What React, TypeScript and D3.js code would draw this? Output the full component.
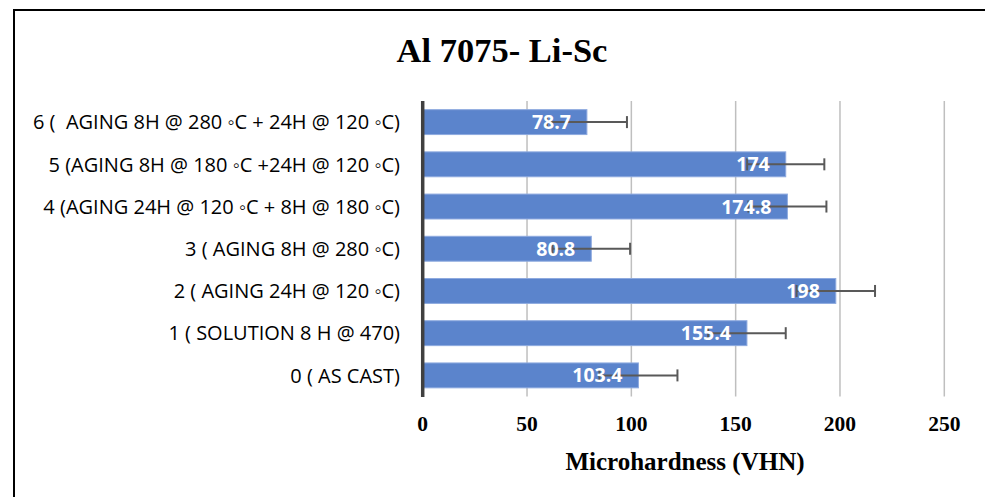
import React from "react";
import * as d3 from "d3";

const categories = [
  "0 ( AS CAST)",
  "1 ( SOLUTION 8 H @ 470)",
  "2 ( AGING 24H @ 120 ◦C)",
  "3 ( AGING 8H @ 280 ◦C)",
  "4 (AGING 24H @ 120 ◦C + 8H @ 180 ◦C)",
  "5 (AGING 8H @ 180 ◦C +24H @ 120 ◦C)",
  "6 (  AGING 8H @ 280 ◦C + 24H @ 120 ◦C)",
];
const values = [103.4, 155.4, 198, 80.8, 174.8, 174, 78.7];
const errors = [18.7, 18.6, 18.8, 18.6, 18.7, 18.5, 19.2];
const xTicks = [0, 50, 100, 150, 200, 250];
const title = "Al 7075- Li-Sc";
const xTitle = "Microhardness (VHN)";

const W = 985;
const H = 497;

export default function App() {
  const x = d3.scaleLinear().domain([0, 250]).range([422.7, 944.3]);
  const order = categories.map((_, i) => i).reverse();
  const y = d3
    .scaleBand<number>()
    .domain(order)
    .range([101, 396.5])
    .paddingInner(0.41)
    .paddingOuter(0.205);
  const bw = y.bandwidth();
  const serif = "'Liberation Serif', 'Times New Roman', serif";
  const sans = "'Open Sans', sans-serif";

  return (
    <svg
      width={W}
      height={H}
      style={{ position: "absolute", left: 0, top: 0, background: "#fff" }}
    >
      <rect x={0} y={0} width={W} height={H} fill="#fff" />
      {/* frame */}
      <line x1={14} y1={10} x2={W} y2={10} stroke="#000" strokeWidth={2} />
      <line x1={14} y1={9} x2={14} y2={H} stroke="#000" strokeWidth={2} />

      <text
        x={502}
        y={62}
        textAnchor="middle"
        fontFamily={serif}
        fontWeight="bold"
        fontSize={34.5}
        fill="#000"
      >
        {title}
      </text>

      {/* gridlines */}
      {xTicks.slice(1).map((t) => (
        <line
          key={t}
          x1={x(t)}
          x2={x(t)}
          y1={101}
          y2={396.5}
          stroke="#bfbfbf"
          strokeWidth={1.5}
        />
      ))}

      {/* bars */}
      {values.map((v, i) => (
        <rect
          key={i}
          x={x(0)}
          y={y(i)!}
          width={x(v) - x(0)}
          height={bw}
          fill="#5b84cc"
          stroke="#8eaadf"
          strokeWidth={1}
        />
      ))}

      {/* error bars */}
      {values.map((v, i) => {
        const cy = y(i)! + bw / 2;
        const x1 = x(v - errors[i]);
        const x2 = x(v + errors[i]);
        return (
          <g key={i} stroke="#595959" strokeWidth={2}>
            <line x1={x1} x2={x2} y1={cy} y2={cy} />
            <line x1={x1} x2={x1} y1={cy - 6} y2={cy + 6} />
            <line x1={x2} x2={x2} y1={cy - 6} y2={cy + 6} />
          </g>
        );
      })}

      {/* data labels */}
      {values.map((v, i) => (
        <text
          key={i}
          x={x(v) - 16}
          y={y(i)! + bw / 2}
          dy="0.36em"
          textAnchor="end"
          fontFamily={sans}
          fontWeight="bold"
          fontSize={19.5}
          fill="#fff"
        >
          {String(v)}
        </text>
      ))}

      {/* y axis line */}
      <line
        x1={x(0)}
        x2={x(0)}
        y1={101}
        y2={397}
        stroke="#404040"
        strokeWidth={3.5}
      />

      {/* category labels */}
      {categories.map((c, i) => (
        <text
          key={i}
          x={400}
          y={y(i)! + bw / 2}
          dy="0.36em"
          textAnchor="end"
          fontFamily={sans}
          fontSize={20}
          fill="#000"
          style={{ whiteSpace: "pre" }}
        >
          {c}
        </text>
      ))}

      {/* x tick labels */}
      {xTicks.map((t) => (
        <text
          key={t}
          x={x(t)}
          y={431}
          textAnchor="middle"
          fontFamily={serif}
          fontWeight="bold"
          fontSize={21.5}
          fill="#000"
        >
          {t}
        </text>
      ))}

      <text
        x={685}
        y={470}
        textAnchor="middle"
        fontFamily={serif}
        fontWeight="bold"
        fontSize={25}
        fill="#000"
      >
        {xTitle}
      </text>
    </svg>
  );
}
